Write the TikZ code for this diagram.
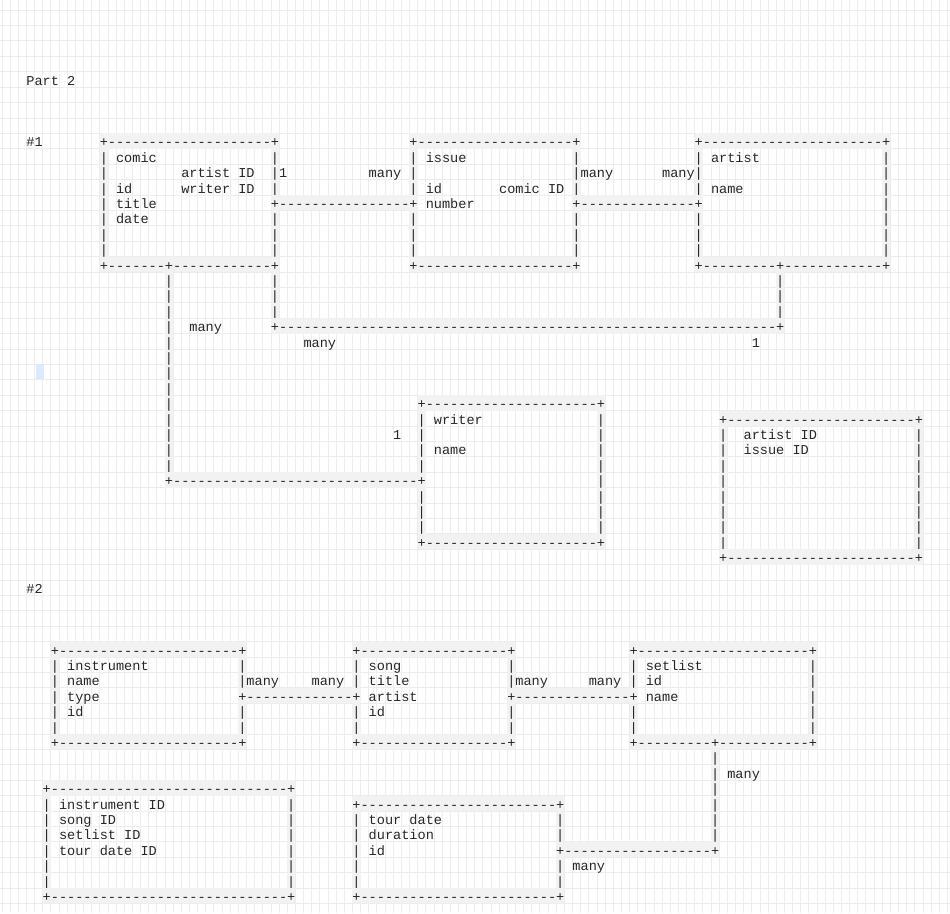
\documentclass[tikz,border=0pt]{standalone}
\usepackage{fontspec}
\setmonofont{Liberation Mono}

\tikzset{
  asc/.style={font=\ttfamily\fontsize{13.58}{15.4}\selectfont, text=black!85,
    anchor=base west, inner sep=0pt, outer sep=0pt},
  cellbg/.style={fill=black!5},
  gridline/.style={draw=black!7, line width=0.8pt},
  cursor/.style={fill={rgb,255:red,219;green,234;blue,252}},
}
% border row: row, first col, last col (+ at the ends, - between)
\newcommand\dashrun[3]{%
  \fill[cellbg] (#2,#1-0.883) rectangle (#3+1,#1+0.117);
  \foreach \i in {#2,...,#3}
    \node[asc] at (\i,#1) {\ifnum\i=#2 +\else\ifnum\i=#3 +\else -\fi\fi};
}
% border column: col, first row, last row
\newcommand\piperun[3]{%
  \fill[cellbg] (#1,#2-0.883) rectangle (#1+1,#3+0.117);
  \foreach \j in {#2,...,#3}
    \node[asc] at (#1,\j) {|};
}

\begin{document}
\begin{tikzpicture}[x=8.15pt, y=-15.4pt]
    % canvas grid
    \fill[white] (-3.2423,-5.539) rectangle (113.322,53.747);
    \useasboundingbox (-3.2423,-5.539) rectangle (113.322,53.747);
    \foreach \i in {-3,...,113}
        \draw[gridline] (\i,-5.539) -- (\i,53.747);
    \foreach \i in {-4,...,54}
        \draw[gridline] (-3.2423,\i-0.883) -- (113.322,\i-0.883);
    \fill[cursor] (1.138,18.117) rectangle (2.12,19.091);

    \node[asc] (part) at (0,0) {Part 2};
    \node[asc] (one) at (0,4) {\#1};

    % comic
    \dashrun{4}{9}{30}
    \piperun{9}{5}{11}
    \piperun{30}{5}{7} \piperun{30}{9}{11}
    \dashrun{12}{9}{17} \dashrun{12}{17}{30}
    % issue
    \dashrun{4}{47}{67}
    \piperun{47}{5}{7} \piperun{47}{9}{11}
    \piperun{67}{5}{7} \piperun{67}{9}{11}
    \dashrun{12}{47}{67}
    % artist
    \dashrun{4}{82}{105}
    \piperun{82}{5}{7} \piperun{82}{9}{11}
    \piperun{105}{5}{11}
    \dashrun{12}{82}{92} \dashrun{12}{92}{105}
    % links
    \dashrun{8}{30}{47}
    \dashrun{8}{67}{82}
    \piperun{30}{13}{15} \piperun{92}{13}{15}
    \dashrun{16}{30}{92}
    \piperun{17}{13}{25}
    \dashrun{26}{17}{48}
    % writer
    \dashrun{21}{48}{70}
    \piperun{48}{22}{25} \piperun{48}{27}{29}
    \piperun{70}{22}{29}
    \dashrun{30}{48}{70}
    % artist/issue table
    \dashrun{22}{85}{109}
    \piperun{85}{23}{30} \piperun{109}{23}{30}
    \dashrun{31}{85}{109}

    \node[asc] (comic) at (11,5) {comic};
    \node[asc] (comicart) at (19,6) {artist ID};
    \node[asc] (comicid) at (11,7) {id};
    \node[asc] (comicwri) at (19,7) {writer ID};
    \node[asc] (comictitle) at (11,8) {title};
    \node[asc] (comicdate) at (11,9) {date};
    \node[asc] (issue) at (49,5) {issue};
    \node[asc] (issueid) at (49,7) {id};
    \node[asc] (issuecomic) at (58,7) {comic ID};
    \node[asc] (issuenum) at (49,8) {number};
    \node[asc] (artist) at (84,5) {artist};
    \node[asc] (artistname) at (84,7) {name};
    \node[asc] (writer) at (50,22) {writer};
    \node[asc] (writername) at (50,24) {name};
    \node[asc] (jart) at (88,23) {artist ID};
    \node[asc] (jiss) at (88,24) {issue ID};
    \node[asc] (ci1) at (31,6) {1};
    \node[asc] (ci2) at (42,6) {many};
    \node[asc] (ia1) at (68,6) {many};
    \node[asc] (ia2) at (78,6) {many};
    \node[asc] (cw1) at (20,16) {many};
    \node[asc] (ca1) at (34,17) {many};
    \node[asc] (ca2) at (89,17) {1};
    \node[asc] (cw2) at (45,23) {1};

    \node[asc] (two) at (0,33) {\#2};

    % instrument
    \dashrun{37}{3}{26}
    \piperun{3}{38}{42}
    \piperun{26}{38}{39} \piperun{26}{41}{42}
    \dashrun{43}{3}{26}
    % song
    \dashrun{37}{40}{59}
    \piperun{40}{38}{39} \piperun{40}{41}{42}
    \piperun{59}{38}{39} \piperun{59}{41}{42}
    \dashrun{43}{40}{59}
    % setlist
    \dashrun{37}{74}{96}
    \piperun{74}{38}{39} \piperun{74}{41}{42}
    \piperun{96}{38}{42}
    \dashrun{43}{74}{84} \dashrun{43}{84}{96}
    % links
    \dashrun{40}{26}{40}
    \dashrun{40}{59}{74}
    \piperun{84}{44}{49}
    \dashrun{50}{65}{84}
    % join table
    \dashrun{46}{2}{32}
    \piperun{2}{47}{52} \piperun{32}{47}{52}
    \dashrun{53}{2}{32}
    % tour date
    \dashrun{47}{40}{65}
    \piperun{40}{48}{52}
    \piperun{65}{48}{49} \piperun{65}{51}{52}
    \dashrun{53}{40}{65}

    \node[asc] (instr) at (5,38) {instrument};
    \node[asc] (instrname) at (5,39) {name};
    \node[asc] (instrtype) at (5,40) {type};
    \node[asc] (instrid) at (5,41) {id};
    \node[asc] (song) at (42,38) {song};
    \node[asc] (songtitle) at (42,39) {title};
    \node[asc] (songartist) at (42,40) {artist};
    \node[asc] (songid) at (42,41) {id};
    \node[asc] (setlist) at (76,38) {setlist};
    \node[asc] (setlistid) at (76,39) {id};
    \node[asc] (setlistname) at (76,40) {name};
    \node[asc] (jinstr) at (4,47) {instrument ID};
    \node[asc] (jsong) at (4,48) {song ID};
    \node[asc] (jset) at (4,49) {setlist ID};
    \node[asc] (jtour) at (4,50) {tour date ID};
    \node[asc] (tour) at (42,48) {tour date};
    \node[asc] (tourdur) at (42,49) {duration};
    \node[asc] (tourid) at (42,50) {id};
    \node[asc] (is1) at (27,39) {many};
    \node[asc] (is2) at (35,39) {many};
    \node[asc] (ss1) at (60,39) {many};
    \node[asc] (ss2) at (69,39) {many};
    \node[asc] (st1) at (86,45) {many};
    \node[asc] (st2) at (67,51) {many};
\end{tikzpicture}
\end{document}
